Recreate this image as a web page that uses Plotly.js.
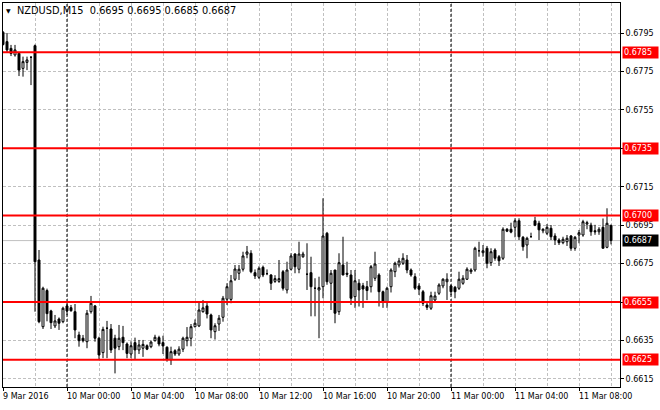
<!DOCTYPE html>
<html><head><meta charset="utf-8">
<script src="https://cdn.plot.ly/plotly-3.0.1.min.js"></script>
<style>html,body{margin:0;padding:0;background:#fff;}#chart{width:660px;height:410px;}</style>
</head><body><div id="chart"></div>
<script>
const symbol = 'NZDUSD,M15';
const startTime = '2016-03-09T20:00:00Z';
const barMinutes = 15;

const open = [
0.67954,0.67905,0.67870,0.67836,0.67844,0.67766,0.67797,0.67824,0.67884,0.66769,
0.66422,0.66610,0.66504,0.66426,0.66462,0.66448,0.66530,0.66521,0.66500,0.66379,
0.66362,0.66344,0.66500,0.66530,0.66362,0.66287,0.66414,0.66410,0.66362,0.66318,
0.66367,0.66332,0.66280,0.66339,0.66301,0.66310,0.66323,0.66318,0.66349,0.66365,
0.66339,0.66315,0.66249,0.66297,0.66280,0.66305,0.66349,0.66362,0.66422,0.66426,
0.66500,0.66530,0.66483,0.66396,0.66436,0.66471,0.66565,0.66564,0.66669,0.66700,
0.66721,0.66799,0.66804,0.66703,0.66679,0.66731,0.66698,0.66691,0.66658,0.66658,
0.66708,0.66613,0.66721,0.66800,0.66721,0.66786,0.66695,0.66703,0.66622,0.66613,
0.66630,0.66908,0.66648,0.66717,0.66500,0.66743,0.66700,0.66691,0.66578,0.66648,
0.66635,0.66630,0.66630,0.66674,0.66691,0.66604,0.66552,0.66630,0.66708,0.66743,
0.66752,0.66769,0.66717,0.66682,0.66634,0.66604,0.66535,0.66518,0.66561,0.66596,
0.66634,0.66656,0.66634,0.66627,0.66622,0.66648,0.66669,0.66708,0.66717,0.66817,
0.66807,0.66830,0.66755,0.66821,0.66786,0.66778,0.66929,0.66929,0.66939,0.66973,
0.66887,0.66847,0.66890,0.66973,0.66960,0.66921,0.66908,0.66934,0.66894,0.66873,
0.66859,0.66864,0.66894,0.66830,0.66899,0.66899,0.66956,0.66950,0.66921,0.66916,
0.66939,0.66835,0.66950];
const high = [
0.67960,0.67950,0.67888,0.67888,0.67849,0.67827,0.67827,0.67827,0.67890,0.66821,
0.66630,0.66620,0.66510,0.66483,0.66470,0.66526,0.66550,0.66535,0.66540,0.66396,
0.66379,0.66509,0.66582,0.66535,0.66370,0.66422,0.66452,0.66436,0.66380,0.66431,
0.66426,0.66340,0.66346,0.66365,0.66353,0.66353,0.66330,0.66350,0.66380,0.66375,
0.66375,0.66320,0.66318,0.66305,0.66320,0.66370,0.66420,0.66436,0.66460,0.66550,
0.66561,0.66545,0.66490,0.66440,0.66483,0.66582,0.66648,0.66691,0.66743,0.66743,
0.66812,0.66842,0.66820,0.66720,0.66736,0.66740,0.66720,0.66695,0.66690,0.66769,
0.66717,0.66760,0.66804,0.66804,0.66864,0.66812,0.66856,0.66786,0.66674,0.66682,
0.67090,0.66915,0.66717,0.66717,0.66804,0.66890,0.66760,0.66717,0.66717,0.66669,
0.66650,0.66660,0.66743,0.66812,0.66700,0.66610,0.66630,0.66726,0.66760,0.66780,
0.66804,0.66795,0.66725,0.66700,0.66648,0.66613,0.66552,0.66604,0.66604,0.66648,
0.66674,0.66700,0.66639,0.66634,0.66708,0.66690,0.66731,0.66726,0.66838,0.66864,
0.66847,0.66842,0.66830,0.66830,0.66795,0.66939,0.66935,0.66963,0.66986,0.66986,
0.66894,0.66890,0.66911,0.66994,0.66973,0.66934,0.66956,0.66951,0.66908,0.66882,
0.66890,0.66899,0.66899,0.66894,0.66925,0.66978,0.66973,0.66963,0.66952,0.66940,
0.66985,0.67038,0.66950];
const low = [
0.67885,0.67846,0.67830,0.67827,0.67726,0.67723,0.67757,0.67679,0.66500,0.66440,
0.66410,0.66450,0.66410,0.66415,0.66405,0.66440,0.66483,0.66500,0.66362,0.66318,
0.66340,0.66310,0.66490,0.66344,0.66254,0.66258,0.66258,0.66285,0.66179,0.66300,
0.66300,0.66258,0.66258,0.66254,0.66280,0.66265,0.66300,0.66310,0.66345,0.66320,
0.66280,0.66240,0.66223,0.66270,0.66270,0.66290,0.66320,0.66320,0.66418,0.66420,
0.66495,0.66465,0.66362,0.66355,0.66400,0.66448,0.66535,0.66544,0.66660,0.66665,
0.66709,0.66778,0.66700,0.66670,0.66670,0.66680,0.66690,0.66613,0.66650,0.66650,
0.66610,0.66595,0.66715,0.66700,0.66700,0.66780,0.66613,0.66476,0.66476,0.66362,
0.66570,0.66640,0.66509,0.66440,0.66483,0.66690,0.66680,0.66535,0.66520,0.66527,
0.66520,0.66560,0.66600,0.66660,0.66527,0.66520,0.66520,0.66600,0.66680,0.66730,
0.66743,0.66700,0.66682,0.66613,0.66587,0.66530,0.66509,0.66509,0.66556,0.66587,
0.66622,0.66561,0.66587,0.66570,0.66613,0.66640,0.66665,0.66696,0.66708,0.66786,
0.66786,0.66726,0.66738,0.66765,0.66738,0.66769,0.66914,0.66908,0.66887,0.66873,
0.66817,0.66778,0.66890,0.66945,0.66873,0.66908,0.66899,0.66873,0.66847,0.66847,
0.66851,0.66842,0.66817,0.66817,0.66856,0.66890,0.66929,0.66895,0.66900,0.66900,
0.66830,0.66830,0.66850];
const close = [
0.67890,0.67862,0.67844,0.67862,0.67757,0.67801,0.67810,0.67824,0.66760,0.66448,
0.66622,0.66490,0.66443,0.66452,0.66440,0.66518,0.66504,0.66505,0.66405,0.66349,
0.66349,0.66492,0.66544,0.66362,0.66275,0.66408,0.66414,0.66301,0.66310,0.66362,
0.66339,0.66283,0.66323,0.66301,0.66327,0.66330,0.66305,0.66342,0.66367,0.66332,
0.66322,0.66252,0.66292,0.66280,0.66305,0.66362,0.66367,0.66422,0.66440,0.66509,
0.66520,0.66488,0.66405,0.66427,0.66466,0.66570,0.66630,0.66661,0.66722,0.66721,
0.66790,0.66811,0.66708,0.66686,0.66726,0.66691,0.66698,0.66648,0.66672,0.66672,
0.66622,0.66717,0.66790,0.66734,0.66800,0.66800,0.66695,0.66630,0.66622,0.66625,
0.66894,0.66656,0.66700,0.66492,0.66755,0.66691,0.66695,0.66570,0.66661,0.66613,
0.66618,0.66610,0.66734,0.66748,0.66604,0.66552,0.66622,0.66717,0.66752,0.66764,
0.66778,0.66717,0.66691,0.66622,0.66617,0.66544,0.66523,0.66583,0.66582,0.66639,
0.66669,0.66669,0.66604,0.66604,0.66669,0.66674,0.66721,0.66717,0.66830,0.66817,
0.66817,0.66752,0.66812,0.66778,0.66765,0.66929,0.66919,0.66914,0.66973,0.66890,
0.66838,0.66882,0.66890,0.66950,0.66926,0.66929,0.66939,0.66890,0.66873,0.66859,
0.66877,0.66882,0.66830,0.66887,0.66911,0.66968,0.66963,0.66916,0.66916,0.66929,
0.66830,0.66960,0.66870];

const levels = [0.6785, 0.6735, 0.6700, 0.6655, 0.6625];
const priceTicks = [0.6615, 0.6635, 0.6655, 0.6675, 0.6695, 0.6715, 0.6735, 0.6755, 0.6775, 0.6795];
const tickTimes = ['2016-03-09 20:00','2016-03-10 00:00','2016-03-10 04:00','2016-03-10 08:00','2016-03-10 12:00','2016-03-10 16:00','2016-03-10 20:00','2016-03-11 00:00','2016-03-11 04:00','2016-03-11 08:00'];
const tickLabels = ['9 Mar 2016','10 Mar 00:00','10 Mar 04:00','10 Mar 08:00','10 Mar 12:00','10 Mar 16:00','10 Mar 20:00','11 Mar 00:00','11 Mar 04:00','11 Mar 08:00'];

const FONT = 'DejaVu Sans, sans-serif';
const t0 = Date.parse(startTime);
const fmt = ms => new Date(ms).toISOString().slice(0,19).replace('T',' ');
const times = open.map((_, i) => fmt(t0 + i*barMinutes*60000));
const barMs = barMinutes*60000;
const xStart = fmt(t0);
const xEnd = fmt(t0 + 154.25*barMs);

const n = close.length;
const last = close[n-1];

const priceText = priceTicks.map(p => levels.some(l => Math.abs(l - p) < 1e-9) ? '' : p.toFixed(4));

const shapes = [];
tickTimes.filter(t => t.endsWith('00:00') && t !== tickTimes[0]).forEach(t => {
  shapes.push({type:'line', xref:'x', yref:'paper', x0:t, x1:t, y0:0, y1:1,
    line:{color:'#000', width:1, dash:'3px,2px'}, layer:'above'});
});
shapes.push({type:'line', xref:'paper', yref:'y', x0:0, x1:1, y0:last, y1:last,
  line:{color:'#c0c0c0', width:1}, layer:'below'});
levels.forEach(l => shapes.push({type:'line', xref:'paper', yref:'y', x0:0, x1:1, y0:l, y1:l,
  line:{color:'#ff0000', width:2}, layer:'above'}));

const annotations = [];
levels.forEach(l => annotations.push({xref:'paper', yref:'y', x:1, y:l, xanchor:'left', yanchor:'middle',
  xshift:2, text:l.toFixed(4), showarrow:false, bgcolor:'#ff0000', font:{family:FONT, size:8, color:'#fff'},
  width:33, height:9, borderpad:1, align:'left'}));
annotations.push({xref:'paper', yref:'y', x:1, y:last, xanchor:'left', yanchor:'middle',
  xshift:2, text:last.toFixed(4), showarrow:false, bgcolor:'#000', font:{family:FONT, size:8, color:'#fff'},
  width:33, height:9, borderpad:1, align:'left'});
tickTimes.forEach((t, k) => annotations.push({xref:'x', yref:'paper', x:t, y:0, xanchor:'left', yanchor:'top',
  xshift:-2, yshift:-3, text:tickLabels[k], showarrow:false, font:{family:FONT, size:8, color:'#000'}}));
annotations.push({xref:'paper', yref:'paper', x:0, y:1, xanchor:'left', yanchor:'middle', xshift:1, yshift:-7,
  text:'\u25BC', showarrow:false, font:{family:FONT, size:6, color:'#000'}});
annotations.push({xref:'paper', yref:'paper', x:0, y:1, xanchor:'left', yanchor:'middle', xshift:12, yshift:-7,
  text:symbol + '\u00a0\u00a0' + [open[n-1], high[n-1], low[n-1], close[n-1]].map(v => v.toFixed(4)).join(' '),
  showarrow:false, font:{family:FONT, size:9.8, color:'#000'}});

const trace = {
  type:'candlestick', x:times, open:open, high:high, low:low, close:close,
  increasing:{line:{color:'#000', width:1}, fillcolor:'#ffffff'},
  decreasing:{line:{color:'#000', width:1}, fillcolor:'#000000'},
  whiskerwidth:0, hoverinfo:'skip', showlegend:false
};

const layout = {
  width:660, height:410,
  margin:{l:3, r:40, t:3, b:23, pad:0},
  paper_bgcolor:'#fff', plot_bgcolor:'#fff',
  showlegend:false, hovermode:false,
  font:{family:FONT, size:8, color:'#000'},
  xaxis:{type:'date', range:[xStart, xEnd], rangeslider:{visible:false},
    tickvals:tickTimes, showticklabels:false, ticks:'outside', ticklen:3, tickcolor:'#000',
    showgrid:true, gridcolor:'#c0c0c0', griddash:'3px,2px', gridwidth:1,
    minor:{dtick:2*3600000, tick0:'2016-03-09 22:00', showgrid:true, gridcolor:'#c0c0c0', griddash:'3px,2px', ticks:''},
    showline:true, linecolor:'#000', linewidth:1, mirror:true, zeroline:false, fixedrange:true},
  yaxis:{side:'right', range:[0.661082, 0.681061], tickvals:priceTicks, ticktext:priceText,
    ticks:'outside', ticklen:3, tickcolor:'#000', tickfont:{family:FONT, size:8, color:'#000'},
    showgrid:true, gridcolor:'#c0c0c0', griddash:'3px,2px', gridwidth:1,
    showline:true, linecolor:'#000', linewidth:1, mirror:true, zeroline:false, fixedrange:true},
  shapes:shapes, annotations:annotations
};

Plotly.newPlot('chart', [trace], layout, {staticPlot:true, displayModeBar:false});
</script></body></html>
